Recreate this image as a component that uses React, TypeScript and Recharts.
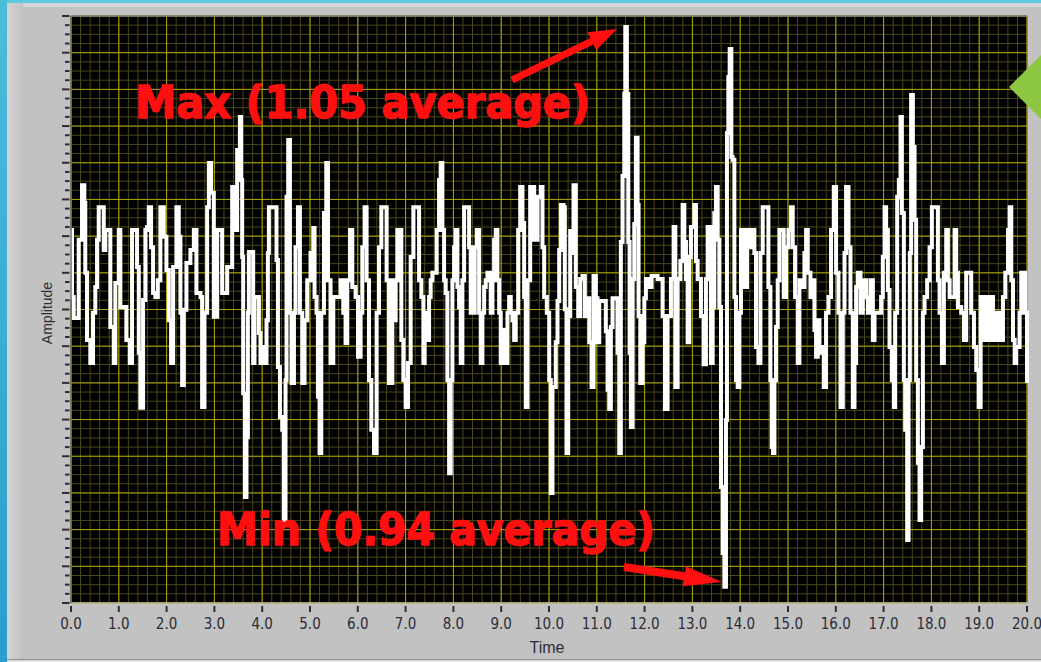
import React from "react";
import { LineChart, Line, XAxis, YAxis, CartesianGrid, ReferenceLine } from "recharts";

// Data: amplitude trace (time in seconds)
const timeS = [
  0, 0.021, 0.057, 0.126, 0.161, 0.230, 0.279, 0.299, 0.335, 0.404,
  0.461, 0.509, 0.545, 0.580, 0.649, 0.685, 0.718, 0.790, 0.823, 0.894,
  0.928, 0.999, 1.032, 1.104, 1.158, 1.229, 1.277, 1.347, 1.382, 1.418,
  1.451, 1.508, 1.556, 1.592, 1.627, 1.675, 1.717, 1.765, 1.816, 1.870,
  1.941, 1.996, 2.046, 2.094, 2.136, 2.205, 2.255, 2.289, 2.325, 2.360,
  2.415, 2.498, 2.570, 2.624, 2.708, 2.743, 2.792, 2.848, 2.884, 2.932,
  2.988, 3.058, 3.127, 3.162, 3.211, 3.267, 3.372, 3.407, 3.441, 3.476,
  3.533, 3.560, 3.581, 3.602, 3.638, 3.671, 3.700, 3.721, 3.791, 3.811,
  3.839, 3.895, 3.931, 3.964, 4.000, 4.036, 4.090, 4.119, 4.140, 4.245,
  4.299, 4.329, 4.371, 4.419, 4.454, 4.488, 4.509, 4.544, 4.580, 4.613,
  4.664, 4.697, 4.748, 4.789, 4.838, 4.886, 4.942, 5.011, 5.068, 5.095,
  5.137, 5.166, 5.200, 5.236, 5.292, 5.340, 5.376, 5.430, 5.487, 5.571,
  5.640, 5.696, 5.744, 5.780, 5.837, 5.885, 5.954, 6.004, 6.059, 6.094,
  6.142, 6.184, 6.234, 6.283, 6.339, 6.394, 6.444, 6.492, 6.549, 6.603,
  6.653, 6.722, 6.758, 6.792, 6.827, 6.884, 6.911, 6.953, 7.001, 7.051,
  7.106, 7.162, 7.246, 7.282, 7.330, 7.372, 7.399, 7.441, 7.491, 7.524,
  7.560, 7.608, 7.650, 7.700, 7.734, 7.769, 7.805, 7.839, 7.874, 7.910,
  7.943, 7.979, 8.014, 8.048, 8.084, 8.119, 8.153, 8.188, 8.224, 8.293,
  8.329, 8.362, 8.398, 8.446, 8.488, 8.538, 8.572, 8.607, 8.643, 8.676,
  8.712, 8.747, 8.781, 8.817, 8.852, 8.886, 8.921, 8.957, 8.990, 9.026,
  9.062, 9.095, 9.131, 9.166, 9.200, 9.235, 9.271, 9.304, 9.355, 9.397,
  9.445, 9.480, 9.514, 9.550, 9.606, 9.654, 9.690, 9.759, 9.828, 9.864,
  9.899, 9.954, 10.004, 10.037, 10.073, 10.142, 10.178, 10.213, 10.247, 10.303,
  10.331, 10.366, 10.402, 10.444, 10.492, 10.513, 10.561, 10.611, 10.653, 10.701,
  10.750, 10.791, 10.842, 10.890, 10.932, 10.980, 11.015, 11.051, 11.120, 11.189,
  11.225, 11.260, 11.294, 11.330, 11.399, 11.434, 11.470, 11.503, 11.539, 11.575,
  11.596, 11.629, 11.659, 11.686, 11.713, 11.749, 11.784, 11.818, 11.853, 11.874,
  11.910, 11.958, 11.994, 12.027, 12.098, 12.146, 12.203, 12.272, 12.341, 12.377,
  12.425, 12.481, 12.551, 12.607, 12.643, 12.691, 12.748, 12.796, 12.831, 12.865,
  12.900, 12.936, 12.969, 13.040, 13.074, 13.110, 13.179, 13.235, 13.283, 13.319,
  13.388, 13.424, 13.459, 13.493, 13.529, 13.564, 13.598, 13.633, 13.669, 13.702,
  13.723, 13.752, 13.780, 13.815, 13.843, 13.878, 13.912, 13.947, 13.983, 14.016,
  14.073, 14.100, 14.142, 14.192, 14.262, 14.297, 14.331, 14.381, 14.423, 14.471,
  14.561, 14.590, 14.632, 14.659, 14.687, 14.716, 14.749, 14.785, 14.820, 14.869,
  14.911, 14.959, 15.009, 15.064, 15.099, 15.148, 15.204, 15.239, 15.288, 15.344,
  15.378, 15.413, 15.470, 15.518, 15.553, 15.587, 15.623, 15.658, 15.713, 15.748,
  15.796, 15.847, 15.901, 15.958, 16.006, 16.056, 16.098, 16.146, 16.182, 16.215,
  16.266, 16.307, 16.356, 16.391, 16.425, 16.460, 16.517, 16.565, 16.634, 16.670,
  16.726, 16.775, 16.810, 16.879, 16.948, 16.984, 17.020, 17.053, 17.089, 17.124,
  17.172, 17.214, 17.242, 17.284, 17.319, 17.354, 17.382, 17.424, 17.451, 17.493,
  17.522, 17.549, 17.576, 17.612, 17.648, 17.681, 17.717, 17.752, 17.786, 17.822,
  17.857, 17.911, 17.962, 18.010, 18.100, 18.136, 18.171, 18.220, 18.261, 18.310,
  18.345, 18.381, 18.450, 18.485, 18.519, 18.555, 18.624, 18.680, 18.728, 18.799,
  18.833, 18.890, 18.938, 18.988, 19.030, 19.078, 19.126, 19.183, 19.239, 19.288,
  19.357, 19.428, 19.497, 19.546, 19.602, 19.637, 19.671, 19.707, 19.742, 19.775,
  19.846, 19.880, 19.937, 19.964, 20.000,
];

const amplitude = [
  1.0217, 1.0034, 0.9977, 0.9977, 1.0190, 1.0339, 1.0290, 1.0100, 0.9917, 0.9854,
  0.9991, 1.0061, 1.0190, 1.0279, 1.0279, 1.0162, 1.0217, 1.0217, 0.9952, 0.9854,
  1.0072, 1.0217, 1.0007, 1.0007, 0.9917, 0.9854, 1.0217, 1.0217, 1.0116, 0.9882,
  0.9732, 1.0026, 1.0217, 1.0225, 1.0279, 1.0170, 1.0045, 1.0034, 1.0080, 1.0279,
  1.0198, 1.0108, 0.9971, 0.9854, 1.0116, 1.0279, 1.0198, 0.9991, 0.9794, 0.9999,
  1.0127, 1.0162, 1.0217, 1.0045, 1.0034, 0.9734, 0.9991, 1.0279, 1.0399, 1.0318,
  0.9980, 1.0217, 1.0217, 1.0045, 1.0045, 1.0116, 1.0334, 1.0326, 1.0217, 1.0435,
  1.0525, 1.0353, 1.0143, 0.9772, 0.9489, 0.9652, 0.9991, 1.0157, 1.0157, 0.9854,
  1.0034, 1.0034, 0.9936, 0.9854, 0.9898, 0.9854, 0.9971, 1.0154, 1.0279, 1.0279,
  1.0135, 0.9843, 0.9707, 0.9672, 0.9426, 0.9808, 1.0307, 1.0462, 0.9991, 0.9800,
  0.9991, 1.0170, 1.0279, 0.9991, 0.9800, 0.9971, 1.0080, 1.0154, 1.0222, 1.0034,
  0.9991, 0.9762, 0.9609, 0.9991, 1.0263, 1.0399, 1.0080, 0.9854, 1.0034, 1.0034,
  1.0080, 0.9991, 0.9909, 1.0080, 1.0217, 1.0061, 1.0034, 0.9871, 0.9991, 1.0170,
  1.0279, 1.0080, 0.9808, 0.9672, 0.9609, 0.9991, 1.0170, 1.0279, 1.0279, 1.0080,
  0.9800, 1.0080, 0.9971, 1.0080, 1.0217, 1.0217, 0.9917, 0.9808, 0.9734, 0.9854,
  1.0143, 1.0279, 1.0279, 1.0080, 1.0034, 0.9854, 0.9991, 0.9917, 1.0034, 1.0080,
  1.0100, 1.0100, 1.0217, 1.0353, 1.0399, 1.0217, 1.0080, 1.0045, 0.9808, 0.9554,
  0.9808, 1.0080, 1.0170, 1.0217, 1.0061, 1.0007, 0.9854, 1.0080, 1.0279, 1.0279,
  1.0170, 0.9991, 0.9991, 1.0170, 1.0217, 0.9991, 0.9854, 0.9991, 1.0061, 1.0080,
  1.0100, 1.0100, 0.9991, 1.0080, 1.0190, 1.0217, 1.0080, 0.9991, 0.9854, 0.9854,
  0.9944, 0.9854, 0.9991, 1.0034, 0.9991, 0.9971, 0.9917, 0.9991, 1.0217, 1.0334,
  1.0236, 1.0034, 0.9734, 1.0080, 1.0334, 1.0334, 1.0190, 1.0307, 1.0334, 1.0170,
  1.0034, 0.9991, 0.9808, 0.9500, 0.9789, 0.9911, 1.0023, 1.0162, 1.0285, 1.0279,
  1.0001, 0.9609, 0.9982, 1.0214, 1.0154, 1.0339, 1.0061, 0.9982, 1.0083, 1.0091,
  0.9982, 1.0031, 0.9911, 0.9789, 1.0091, 1.0031, 0.9911, 1.0023, 1.0023, 0.9941,
  0.9781, 0.9729, 0.9952, 1.0031, 1.0031, 0.9882, 0.9609, 1.0184, 1.0364, 1.0588,
  1.0770, 1.0588, 1.0184, 0.9882, 0.9680, 1.0083, 1.0233, 1.0468, 1.0285, 0.9982,
  0.9800, 0.9911, 1.0031, 1.0083, 1.0061, 1.0091, 1.0091, 1.0083, 1.0083, 0.9982,
  0.9729, 0.9982, 1.0083, 1.0225, 0.9789, 1.0083, 1.0132, 1.0285, 1.0184, 1.0083,
  0.9911, 1.0143, 1.0225, 1.0285, 1.0132, 1.0083, 0.9982, 0.9851, 1.0083, 1.0225,
  0.9854, 1.0007, 1.0263, 1.0334, 1.0190, 1.0007, 0.9516, 0.9336, 0.9244, 0.9699,
  1.0481, 1.0634, 1.0710, 1.0416, 1.0408, 1.0034, 0.9808, 0.9789, 0.9991, 1.0217,
  1.0170, 1.0061, 1.0217, 1.0170, 1.0217, 1.0154, 0.9898, 0.9854, 1.0154, 1.0279,
  1.0279, 1.0061, 0.9808, 0.9625, 0.9609, 0.9808, 0.9952, 1.0080, 1.0217, 1.0217,
  1.0034, 1.0170, 1.0217, 1.0279, 1.0170, 1.0034, 0.9854, 1.0080, 1.0061, 1.0154,
  1.0217, 1.0100, 1.0034, 1.0080, 0.9944, 0.9871, 0.9971, 0.9882, 0.9898, 0.9789,
  0.9991, 1.0034, 1.0217, 1.0334, 1.0100, 0.9991, 0.9734, 0.9991, 1.0154, 1.0334,
  1.0170, 0.9991, 0.9734, 0.9854, 1.0061, 1.0100, 0.9991, 1.0080, 1.0034, 0.9991,
  1.0080, 0.9917, 0.9991, 0.9991, 1.0034, 1.0143, 1.0279, 1.0217, 1.0053, 0.9898,
  0.9808, 0.9734, 0.9991, 1.0307, 1.0353, 1.0525, 1.0263, 0.9808, 0.9672, 0.9372,
  0.9808, 1.0154, 1.0585, 1.0443, 1.0244, 0.9808, 0.9582, 0.9426, 0.9625, 0.9991,
  1.0034, 1.0080, 1.0170, 1.0279, 1.0279, 1.0080, 0.9991, 0.9854, 1.0100, 1.0217,
  1.0080, 1.0034, 1.0034, 1.0217, 1.0100, 1.0007, 0.9991, 0.9917, 1.0100, 1.0100,
  0.9991, 0.9898, 0.9835, 0.9734, 1.0034, 0.9917, 1.0034, 0.9917, 1.0034, 0.9917,
  0.9991, 0.9917, 1.0034, 1.0100, 1.0217, 1.0279, 1.0080, 0.9917, 0.9854, 0.9898,
  0.9991, 1.0100, 1.0100, 0.9991, 0.9800,
];

// Axes / grid
const xMajor = [0, 1, 2, 3, 4, 5, 6, 7, 8, 9, 10, 11, 12, 13, 14, 15, 16, 17, 18, 19, 20];
const xMinor = Array.from({ length: 101 }, (_, i) => Number((i * 0.2).toFixed(1)));
const yDomain: [number, number] = [0.92, 1.08];
const yMinor = Array.from({ length: 65 }, (_, i) => Number((0.92 + i * 0.0025).toFixed(4)));
const yMajor = yMinor.filter((_, i) => i % 4 === 0);

const data = timeS.map((t, i) => ({ t, v: amplitude[i] }));

const MAJOR = "#aca400";
const MINOR = "#4a4716";
const TICK = "#2c2c36";
const RED = "#ff0f0f";

const YTick = (props: any) => {
  const { x, y, index } = props;
  const major = index % 4 === 0;
  return <line x1={x - (major ? 9 : 6)} x2={x - 1.5} y1={y} y2={y} stroke={TICK} strokeWidth={2} />;
};

const XTick = (props: any) => {
  const { x, y, payload } = props;
  return (
    <g>
      <line x1={x} x2={x} y1={y + 3} y2={y + 9} stroke={TICK} strokeWidth={2} />
      <text
        x={x}
        y={y + 26}
        textAnchor="middle"
        fill={TICK}
        fontSize={15}
        fontFamily="'Liberation Sans Narrow', 'DejaVu Sans Condensed', sans-serif"
      >
        {Number(payload.value).toFixed(1)}
      </text>
    </g>
  );
};

// simple block arrow from tail to tip
function arrowPoints(x1: number, y1: number, x2: number, y2: number, w: number, hw: number, hl: number) {
  const dx = x2 - x1;
  const dy = y2 - y1;
  const len = Math.hypot(dx, dy);
  const ux = dx / len;
  const uy = dy / len;
  const nx = -uy;
  const ny = ux;
  const bx = x2 - ux * hl;
  const by = y2 - uy * hl;
  const pts = [
    [x1 + nx * w, y1 + ny * w],
    [bx + nx * w, by + ny * w],
    [bx + nx * hw, by + ny * hw],
    [x2, y2],
    [bx - nx * hw, by - ny * hw],
    [bx - nx * w, by - ny * w],
    [x1 - nx * w, y1 - ny * w],
  ];
  return pts.map((p) => p.join(",")).join(" ");
}

export default function App() {
  return (
    <div
      style={{
        position: "fixed",
        left: 0,
        top: 0,
        width: 1041,
        height: 662,
        overflow: "hidden",
        background: "#c2c2c2",
        fontFamily: "'Liberation Sans', Arial, sans-serif",
      }}
    >
      {/* window frame */}
      <div style={{ position: "absolute", left: 0, top: 0, width: 1041, height: 3, background: "#5ec7de" }} />
      <div style={{ position: "absolute", left: 7, top: 3, width: 1034, height: 4, background: "#d6d6d6" }} />
      <div
        style={{
          position: "absolute",
          left: 7,
          top: 3,
          width: 16,
          height: 659,
          background: "linear-gradient(to right, #d4d4d4, #c2c2c2)",
        }}
      />
      <div
        style={{
          position: "absolute",
          left: 0,
          top: 0,
          width: 7,
          height: 662,
          background: "linear-gradient(to bottom, #4cbcdb, #2b9dcb)",
        }}
      />
      <div style={{ position: "absolute", left: 7, top: 659, width: 1034, height: 1, background: "#8e8e8e" }} />
      <div style={{ position: "absolute", left: 7, top: 660, width: 1034, height: 2, background: "#dedede" }} />

      <div style={{ position: "absolute", left: 0, top: 0 }}>
        <LineChart width={1041} height={662} data={data} margin={{ top: 16, right: 14, bottom: 29, left: 41 }}>
          <CartesianGrid fill="#000000" horizontal={false} vertical={false} stroke="none" />
          {xMinor.map((t) => (
            <ReferenceLine key={"xm" + t} x={t} stroke={MINOR} strokeWidth={1} />
          ))}
          {yMinor.map((v) => (
            <ReferenceLine key={"ym" + v} y={v} stroke={MINOR} strokeWidth={1} />
          ))}
          {xMajor.map((t) => (
            <ReferenceLine key={"xM" + t} x={t} stroke={MAJOR} strokeWidth={1} />
          ))}
          {yMajor.map((v) => (
            <ReferenceLine key={"yM" + v} y={v} stroke={MAJOR} strokeWidth={1} />
          ))}
          <ReferenceLine y={yDomain[1]} stroke="#7c7c7c" strokeWidth={1.5} />
          <XAxis
            dataKey="t"
            type="number"
            domain={[0, 20]}
            ticks={xMajor}
            interval={0}
            height={30}
            tickSize={0}
            tickMargin={0}
            tickLine={false}
            axisLine={{ stroke: "#d9d9d9", strokeWidth: 1 }}
            tick={<XTick />}
          />
          <YAxis
            type="number"
            domain={yDomain}
            ticks={yMinor}
            interval={0}
            width={30}
            tickSize={0}
            tickMargin={0}
            tickLine={false}
            axisLine={{ stroke: "#6c6c6c", strokeWidth: 1.5 }}
            tick={<YTick />}
          />
          <Line
            type="stepAfter"
            dataKey="v"
            stroke="#ffffff"
            strokeWidth={4}
            strokeLinejoin="miter"
            dot={false}
            isAnimationActive={false}
          />
        </LineChart>
      </div>

      {/* titles, annotations */}
      <svg width={1041} height={662} style={{ position: "absolute", left: 0, top: 0, pointerEvents: "none" }}>
        <text
          x={0}
          y={0}
          transform="translate(52 313) rotate(-90)"
          textAnchor="middle"
          fontSize={14}
          fill={TICK}
          fontFamily="'Liberation Sans', Arial, sans-serif"
        >
          Amplitude
        </text>
        <text x={547} y={653} textAnchor="middle" fontSize={16} fill={TICK} fontFamily="'Liberation Sans', Arial, sans-serif">
          Time
        </text>

        <polygon points={arrowPoints(512, 80, 617, 29, 3.5, 10, 28)} fill={RED} />
        <polygon points={arrowPoints(624, 567, 722, 582, 4, 10, 38)} fill={RED} />
        <text
          x={135}
          y={118}
          fontSize={45}
          fontWeight="bold"
          fill={RED}
          stroke={RED}
          strokeWidth={1.4}
          textLength={455}
          lengthAdjust="spacingAndGlyphs"
          fontFamily="'DejaVu Sans', Verdana, sans-serif"
        >
          Max (1.05 average)
        </text>
        <text
          x={217}
          y={545}
          fontSize={45}
          fontWeight="bold"
          fill={RED}
          stroke={RED}
          strokeWidth={1.4}
          textLength={438}
          lengthAdjust="spacingAndGlyphs"
          fontFamily="'DejaVu Sans', Verdana, sans-serif"
        >
          Min (0.94 average)
        </text>

        <polygon points="1009,87 1045,51 1045,123" fill="#8dc643" />
      </svg>
    </div>
  );
}
